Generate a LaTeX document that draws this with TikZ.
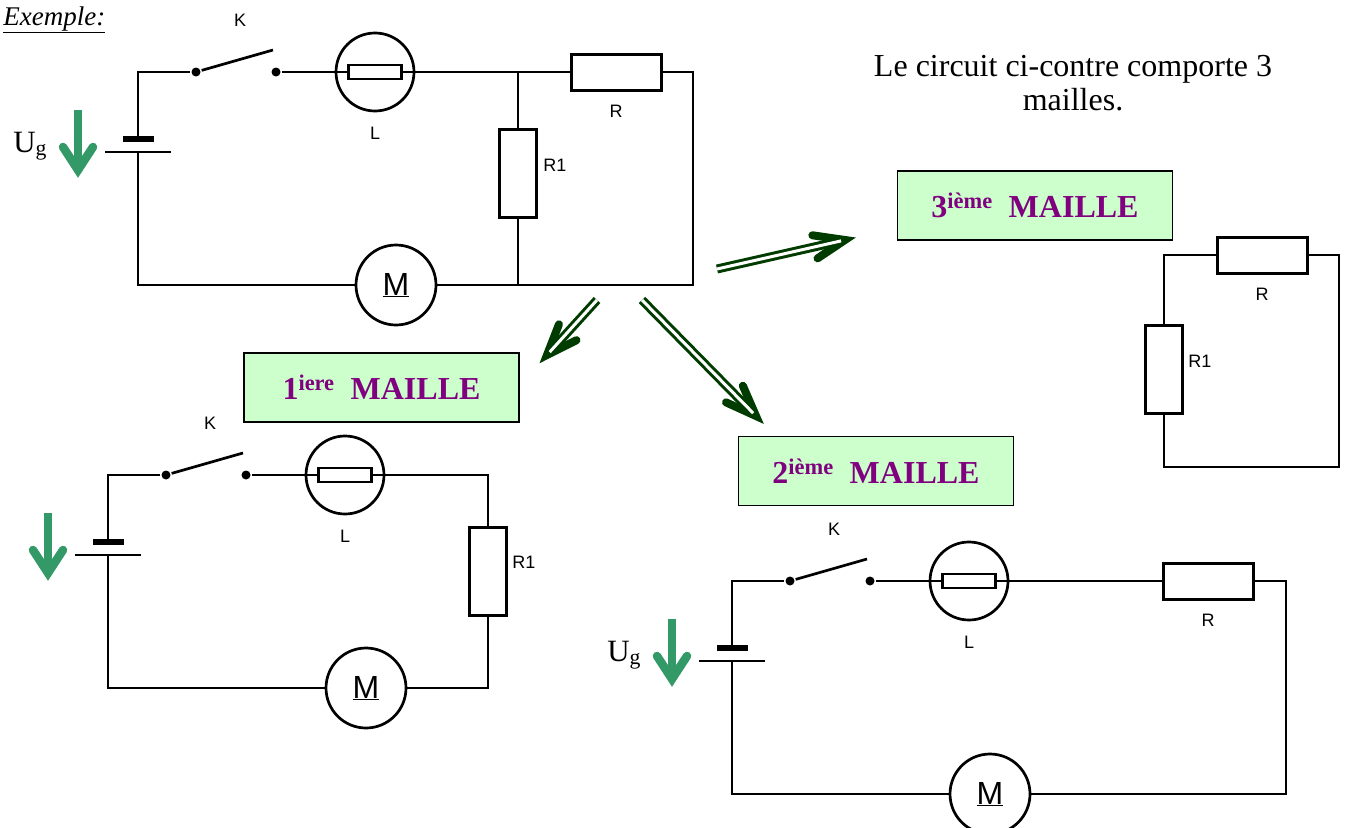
\documentclass[tikz,border=0pt]{standalone}
\usepackage{fontspec}
\setmainfont{Liberation Serif}
\newfontfamily\arial{Liberation Sans}
\usepackage{tikz}
\usetikzlibrary{positioning,calc}

\definecolor{vertug}{RGB}{51,153,102}
\definecolor{vertfonce}{RGB}{0,60,0}
\definecolor{vertclair}{RGB}{204,255,204}
\definecolor{mauve}{RGB}{128,0,128}

\begin{document}
\begin{tikzpicture}[x=1pt, y=-1pt, line width=2.7pt]
        \tikzstyle{contact}=[circle, fill, inner sep=0pt, minimum size=9pt]
        \tikzstyle{resH}=[draw, fill=white, line width=3pt, minimum width=90pt, minimum height=36pt]
        \tikzstyle{resV}=[draw, fill=white, line width=3pt, minimum width=37pt, minimum height=88pt]
        \tikzstyle{lampe}=[draw, circle, minimum size=78pt, inner sep=0pt, path picture={
            \draw (path picture bounding box.west) -- (path picture bounding box.east);
            \draw[fill=white] ([shift={(-26.5,-7)}]path picture bounding box.center) rectangle ++(53,14);}]
        \tikzstyle{moteur}=[draw, circle, fill=white, minimum size=80pt, inner sep=0pt, font=\arial\fontsize{32}{32}\selectfont]
        \tikzstyle{etiq}=[inner sep=0pt, font=\arial\fontsize{18}{18}\selectfont]
        \tikzstyle{ugtexte}=[anchor=base west, inner sep=0pt, font=\fontsize{31}{31}\selectfont]
        \tikzstyle{pile}=[line width=5.5pt]
        \tikzstyle{fleche}=[draw=vertug, line width=8.5pt]
        \tikzstyle{maille}=[draw, line width=1.8pt, fill=vertclair, minimum width=275pt, minimum height=69pt, text=mauve, font=\bfseries\fontsize{32}{32}\selectfont]
        \tikzstyle{tete}=[draw=vertfonce, line width=8pt, line cap=round, line join=miter]
        \tikzstyle{double fleche}=[draw=vertfonce, line width=3pt, double=white, double distance=3pt, shorten >=4pt]

        \useasboundingbox (0,0) rectangle (1348,827);
        \clip (0,0) rectangle (1348,827);

        \begin{scope}[name prefix=a-]
            \node[contact] (Ka) at (196,72) {};
            \node[contact] (Kb) at (276,72) {};
            \node[etiq] (K) at (240,20) {K};
            \node[lampe] (L) at (375,72) {};
            \node[etiq, below=13pt of L] (Ltxt) {L};
            \node[resH] (R) at (616,72) {};
            \node[etiq, below=12pt of R] (Rtxt) {R};
            \node[resV] (R1) at (518,173) {};
            \node[etiq, anchor=west] (R1txt) at (542,165) {R1};
            \node[moteur] (M) at (396,285) {\underline{M}};
            \node[ugtexte] (Ug) at (12,152) {U\textsubscript{g}};
            \coordinate (Gp) at (138,139);
            \coordinate (Gm) at (138,152);
            \coordinate (J) at (518,72);
            \coordinate (C) at (693,72);
            \draw (Ka) -- ++(77,-22);
            \draw (Ka) -| (Gp);
            \draw (Gm) |- (M.west);
            \draw (Kb) -- (L.west);
            \draw (L.east) -- (R.west);
            \draw (R.east) -- (C) |- (M.east);
            \draw (J) -- (R1.north);
            \draw (R1.south) -- (R1.south |- M.east);
            \draw[pile] ([xshift=-15pt]Gp) -- ([xshift=16pt]Gp);
            \draw[line width=2.2pt] ([xshift=-33pt]Gm) -- ([xshift=33pt]Gm);
            \draw[fleche] (78,110) -- (78,166);
            \draw[fleche, line cap=round, line join=miter] (63,147) -- (78,170) -- (93,147);
        \end{scope}

        \begin{scope}[shift={(-30,403)}, name prefix=b-]
            \node[contact] (Ka) at (196,72) {};
            \node[contact] (Kb) at (276,72) {};
            \node[etiq] (K) at (240,20) {K};
            \node[lampe] (L) at (375,72) {};
            \node[etiq, below=13pt of L] (Ltxt) {L};
            \node[resV] (R1) at (518,168) {};
            \node[etiq, anchor=west] (R1txt) at (541,159) {R1};
            \node[moteur] (M) at (396,285) {\underline{M}};
            \coordinate (Gp) at (138,139);
            \coordinate (Gm) at (138,152);
            \coordinate (C) at (518,72);
            \draw (Ka) -- ++(77,-22);
            \draw (Ka) -| (Gp);
            \draw (Gm) |- (M.west);
            \draw (Kb) -- (L.west);
            \draw (L.east) -- (C) -- (R1.north);
            \draw (R1.south) -- (C |- M.east) -- (M.east);
            \draw[pile] ([xshift=-15pt]Gp) -- ([xshift=16pt]Gp);
            \draw[line width=2.2pt] ([xshift=-33pt]Gm) -- ([xshift=33pt]Gm);
            \draw[fleche] (78,110) -- (78,166);
            \draw[fleche, line cap=round, line join=miter] (63,147) -- (78,170) -- (93,147);
        \end{scope}

        \begin{scope}[shift={(594,509)}, name prefix=c-]
            \node[contact] (Ka) at (196,72) {};
            \node[contact] (Kb) at (276,72) {};
            \node[etiq] (K) at (240,20) {K};
            \node[lampe] (L) at (375,72) {};
            \node[etiq, below=13pt of L] (Ltxt) {L};
            \node[resH] (R) at (614,72) {};
            \node[etiq, below=12pt of R] (Rtxt) {R};
            \node[moteur] (M) at (396,285) {\underline{M}};
            \node[ugtexte] (Ug) at (12,152) {U\textsubscript{g}};
            \coordinate (Gp) at (138,139);
            \coordinate (Gm) at (138,152);
            \coordinate (C) at (692,72);
            \draw (Ka) -- ++(77,-22);
            \draw (Ka) -| (Gp);
            \draw (Gm) |- (M.west);
            \draw (Kb) -- (L.west);
            \draw (L.east) -- (R.west);
            \draw (R.east) -- (C) |- (M.east);
            \draw[pile] ([xshift=-15pt]Gp) -- ([xshift=16pt]Gp);
            \draw[line width=2.2pt] ([xshift=-33pt]Gm) -- ([xshift=33pt]Gm);
            \draw[fleche] (78,110) -- (78,166);
            \draw[fleche, line cap=round, line join=miter] (63,147) -- (78,170) -- (93,147);
        \end{scope}

        \begin{scope}[shift={(646,183)}, name prefix=d-]
            \node[resH] (R) at (616,72) {};
            \node[etiq, below=12pt of R] (Rtxt) {R};
            \node[resV] (R1) at (518,186) {};
            \node[etiq, anchor=west] (R1txt) at (541,178) {R1};
            \coordinate (J) at (518,72);
            \coordinate (C) at (693,72);
            \coordinate (B) at (518,284);
            \draw (R.west) -- (J) -- (R1.north);
            \draw (R1.south) -- (B) -| (C) -- (R.east);
        \end{scope}

        \node[maille] (m1) at (381.5,387.5) {1\textsuperscript{iere}~ MAILLE};
        \node[maille] (m2) at (876,471) {2\textsuperscript{ième}~ MAILLE};
        \node[maille] (m3) at (1035,205.5) {3\textsuperscript{ième}~ MAILLE};

        \node[align=center, font=\fontsize{32}{34}\selectfont] (txt) at (1073,83) {Le circuit ci-contre comporte 3\\mailles.};
        \node[anchor=base west, inner sep=0pt, font=\itshape\fontsize{27}{27}\selectfont] (ex) at (2,25) {\underline{Exemple:}};

        \coordinate (s1) at (717,269);
        \coordinate (p1) at (845,240);
        \coordinate (s2) at (597,300);
        \coordinate (p2) at (547,355);
        \coordinate (s3) at (642,300);
        \coordinate (p3) at (756,416);
        \draw[tete] ($(p1)!33pt!21:(s1)$) -- (p1) -- ($(p1)!33pt!-21:(s1)$);
        \draw[double fleche] (s1) -- (p1);
        \draw[tete] ($(p2)!33pt!21:(s2)$) -- (p2) -- ($(p2)!33pt!-21:(s2)$);
        \draw[double fleche] (s2) -- (p2);
        \draw[tete] ($(p3)!33pt!21:(s3)$) -- (p3) -- ($(p3)!33pt!-21:(s3)$);
        \draw[double fleche] (s3) -- (p3);
\end{tikzpicture}
\end{document}
